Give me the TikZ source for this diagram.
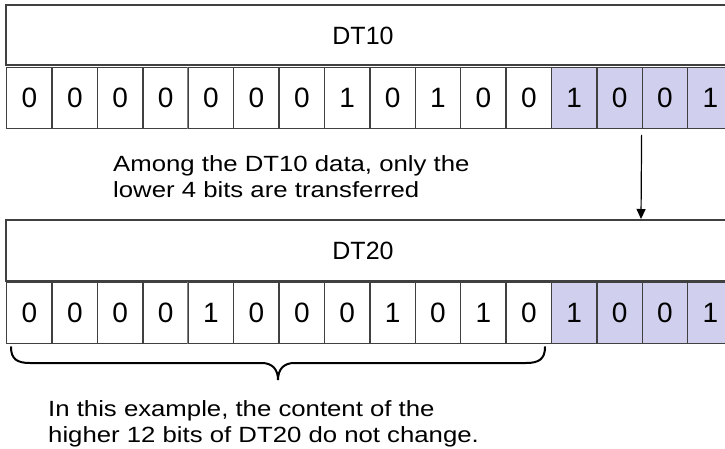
\documentclass[tikz,border=0pt]{standalone}
\usepackage{fontspec}
\setmainfont{Liberation Sans}
\newfontfamily\capfont[FakeStretch=1.17]{Liberation Sans}
\usetikzlibrary{arrows.meta}
\definecolor{cellblue}{RGB}{208,208,238}
\definecolor{edge}{RGB}{64,64,64}
\begin{document}
\begin{tikzpicture}[x=1pt,y=-1pt,
  labelbox/.style={draw=edge,line width=1.4pt,fill=white},
  bitcell/.style={draw=edge,line width=1.4pt,minimum width=45.4pt,minimum height=61pt,inner sep=0pt,anchor=north west,font=\fontsize{28}{30}\selectfont},
  lowbit/.style={bitcell,fill=cellblue},
  caption/.style={align=left,anchor=north west,inner sep=0pt,font=\capfont\fontsize{22}{26}\selectfont},
  titletext/.style={font=\fontsize{25}{28}\selectfont,inner sep=0pt}]
\useasboundingbox (0,0) rectangle (725,448);
\clip (0,0) rectangle (725,448);
% DT10
\draw[labelbox] (6,5) rectangle (740,65);
\node[titletext] (t10) at (363,36) {DT10};
\foreach \b [count=\i from 0] in {0,0,0,0,0,0,0,1,0,1,0,0,1,0,0,1}{
  \ifnum\i<12
    \node[bitcell] (a\i) at ({6+45.4*\i},66.5) {\b};
  \else
    \node[lowbit] (a\i) at ({6+45.4*\i},66.5) {\b};
  \fi
}
\draw[gray,line width=1pt] (a4.north west) -- (a4.south west);
% DT20
\draw[labelbox] (6,220) rectangle (740,281);
\node[titletext] (t20) at (363,251) {DT20};
\foreach \b [count=\i from 0] in {0,0,0,0,1,0,0,0,1,0,1,0,1,0,0,1}{
  \ifnum\i<12
    \node[bitcell] (c\i) at ({6+45.4*\i},281.5) {\b};
  \else
    \node[lowbit] (c\i) at ({6+45.4*\i},281.5) {\b};
  \fi
}
\draw[gray,line width=1pt] (c4.north west) -- (c4.south west);
% arrow
\coordinate (arrS) at ([yshift=-6pt]a14.south west);
\coordinate (arrE) at (641,219);
\draw[line width=1.2pt,-{Triangle[length=10pt,width=9pt]}] (arrS) -- (arrE);
% texts
\node[caption] (m1) at (113,155) {Among the DT10 data, only the\\lower 4 bits are transferred};
% brace
\draw[line width=2pt,line cap=round] (11,347) .. controls (11,359) and (17,363) .. (30,363) -- (262,363) .. controls (272,363) and (278,369) .. (278,380) .. controls (278,369) and (284,363) .. (294,363) -- (526,363) .. controls (539,363) and (545,359) .. (545,347);
\node[caption] (m2) at (48,400) {In this example, the content of the\\higher 12 bits of DT20 do not change.};
\end{tikzpicture}
\end{document}
